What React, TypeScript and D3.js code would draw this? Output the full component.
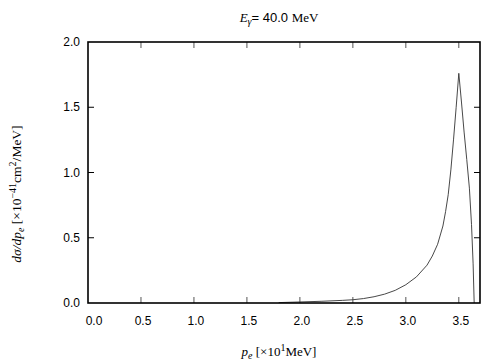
import React, { useEffect, useRef } from "react";
import * as d3 from "d3";

// electron momentum [x10 MeV] and cross section [x10^-41 cm^2/MeV]
const momentum = [1.8, 2.0, 2.2, 2.4, 2.5, 2.6, 2.7, 2.8, 2.9, 3.0, 3.1, 3.2, 3.25, 3.3, 3.35, 3.375, 3.4, 3.425, 3.45, 3.475, 3.5, 3.525, 3.55, 3.575, 3.6, 3.62, 3.635, 3.645];
const sigma = [0.003, 0.008, 0.013, 0.02, 0.025, 0.034, 0.048, 0.068, 0.097, 0.14, 0.2, 0.29, 0.36, 0.45, 0.59, 0.7, 0.83, 1.02, 1.25, 1.5, 1.76, 1.54, 1.31, 1.1, 0.88, 0.6, 0.3, 0];
const xTicks = [0, 0.5, 1.0, 1.5, 2.0, 2.5, 3.0, 3.5];
const yTicks = [0, 0.5, 1.0, 1.5, 2.0];

const W = 504;
const H = 360;
const serif = "'Liberation Serif', 'DejaVu Serif', serif";
const sans = "'Liberation Sans', Arial, sans-serif";

const App: React.FC = () => {
  const ref = useRef<SVGSVGElement | null>(null);

  useEffect(() => {
    if (!ref.current) return;
    const svg = d3.select(ref.current);
    svg.selectAll("*").remove();

    const margin = { top: 42, right: 24, bottom: 57, left: 88 };
    const iw = W - margin.left - margin.right;
    const ih = H - margin.top - margin.bottom;

    const x = d3.scaleLinear().domain([0, 3.7]).range([0, iw]);
    const y = d3.scaleLinear().domain([0, 2.0]).range([ih, 0]);

    const g = svg
      .append("g")
      .attr("transform", `translate(${margin.left},${margin.top})`);

    const tickLen = 6;
    // x ticks (bottom + mirrored top)
    xTicks.forEach((t) => {
      if (t === 0) return;
      g.append("line")
        .attr("x1", x(t)).attr("x2", x(t))
        .attr("y1", ih).attr("y2", ih - tickLen)
        .attr("stroke", "#555").attr("stroke-width", 1);
      g.append("line")
        .attr("x1", x(t)).attr("x2", x(t))
        .attr("y1", 0).attr("y2", tickLen)
        .attr("stroke", "#555").attr("stroke-width", 1);
    });
    xTicks.forEach((t) => {
      g.append("text")
        .attr("x", x(t) + (t === 0 ? 6 : 2))
        .attr("y", ih + 22)
        .attr("text-anchor", "middle")
        .style("font-family", sans)
        .style("font-size", "12px")
        .text(t.toFixed(1));
    });

    // y ticks (left + mirrored right)
    yTicks.forEach((t) => {
      if (t !== 0 && t !== 2) {
        g.append("line")
          .attr("x1", 0).attr("x2", tickLen)
          .attr("y1", y(t)).attr("y2", y(t))
          .attr("stroke", "#000").attr("stroke-width", 1);
        g.append("line")
          .attr("x1", iw).attr("x2", iw - tickLen)
          .attr("y1", y(t)).attr("y2", y(t))
          .attr("stroke", "#000").attr("stroke-width", 1);
      }
      g.append("text")
        .attr("x", -8)
        .attr("y", y(t) + 4)
        .attr("text-anchor", "end")
        .style("font-family", sans)
        .style("font-size", "12px")
        .text(t.toFixed(1));
    });

    // curve
    const line = d3
      .line<number>()
      .x((_, i) => x(momentum[i]))
      .y((d) => y(d));
    g.append("path")
      .datum(sigma)
      .attr("d", line)
      .attr("fill", "none")
      .attr("stroke", "#333")
      .attr("stroke-width", 0.9);

    // frame
    g.append("rect")
      .attr("x", 0).attr("y", 0)
      .attr("width", iw).attr("height", ih)
      .attr("fill", "none")
      .attr("stroke", "#000")
      .attr("stroke-width", 1.6);

    // title
    const title = svg
      .append("text")
      .attr("x", 279)
      .attr("y", 22)
      .attr("text-anchor", "middle")
      .style("font-size", "13px");
    title.append("tspan").style("font-family", serif).style("font-style", "italic").text("E");
    title.append("tspan").style("font-family", serif).style("font-style", "italic")
      .style("font-size", "10px").attr("dy", 3).text("γ");
    title.append("tspan").style("font-family", sans).attr("dy", -3).text("= 40.0 ");
    title.append("tspan").style("font-family", serif).text("MeV");

    // x label
    const xl = svg
      .append("text")
      .attr("x", 279)
      .attr("y", H - 4)
      .attr("text-anchor", "middle")
      .style("font-family", serif)
      .style("font-size", "13px");
    xl.append("tspan").style("font-style", "italic").text("p");
    xl.append("tspan").style("font-style", "italic").style("font-size", "10px").attr("dy", 3).text("e");
    xl.append("tspan").attr("dy", -3).text(" [×10");
    xl.append("tspan").style("font-size", "10px").attr("dy", -5).text("1");
    xl.append("tspan").attr("dy", 5).text("MeV]");

    // y label
    const yl = svg
      .append("text")
      .attr("transform", `translate(21,194) rotate(-90)`)
      .attr("text-anchor", "middle")
      .style("font-family", serif)
      .style("font-size", "13.5px");
    yl.append("tspan").style("font-style", "italic").text("dσ/dp");
    yl.append("tspan").style("font-style", "italic").style("font-size", "10px").attr("dy", 3).text("e");
    yl.append("tspan").attr("dy", -3).text(" [×10");
    yl.append("tspan").style("font-size", "10px").attr("dy", -5).text("−41");
    yl.append("tspan").attr("dy", 5).text("cm");
    yl.append("tspan").style("font-size", "10px").attr("dy", -5).text("2");
    yl.append("tspan").attr("dy", 5).text("/MeV]");
  }, []);

  return (
    <svg
      ref={ref}
      width={W}
      height={H}
      style={{ position: "absolute", left: 0, top: 0, background: "#fff" }}
    />
  );
};

export default App;
